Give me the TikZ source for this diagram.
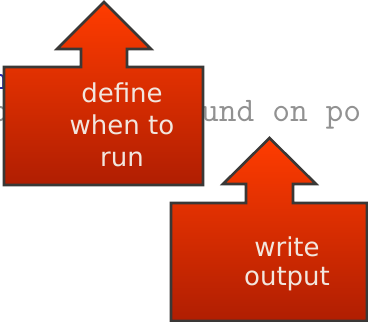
\documentclass[tikz,border=0pt]{standalone}
\usepackage{fontspec}
\setmainfont{DejaVu Sans}
\definecolor{calloutTop}{RGB}{255,60,0}
\definecolor{calloutBottom}{RGB}{176,30,2}
\definecolor{calloutEdge}{RGB}{58,56,54}
\definecolor{calloutText}{RGB}{242,230,222}
\definecolor{codeGray}{RGB}{145,145,145}
\definecolor{codeBlue}{RGB}{40,40,170}
\tikzset{
  callout/.style={draw=calloutEdge, line width=2.6pt, line join=miter,
    top color=calloutTop, bottom color=calloutBottom},
  label/.style={text=calloutText, font=\fontsize{26}{31}\selectfont,
    anchor=base, inner sep=0pt},
  code/.style={text=codeGray, font=\ttfamily\fontsize{34.5}{40}\selectfont,
    anchor=base west, inner sep=0pt},
}
\begin{document}
\begin{tikzpicture}[x=1pt, y=-1pt]
  \useasboundingbox (0,0) rectangle (368,322);
  \fill[white] (0,0) rectangle (368,322);
  \clip (0,0) rectangle (368,322);

  % listing in the background
  \node[code, text=codeBlue] (hlink) at (-10,89) {h};
  \node[code] (bfrag) at (-10,121) {b};
  \node[code] (codeline) at (201,121) {und on po};

  % upper callout
  \draw[callout] (104,2) -- (151,49) -- (127,49) -- (127,67) -- (203,67)
    -- (203,185) -- (4,185) -- (4,67) -- (81,67) -- (81,49) -- (57,49) -- cycle;
  \node[label] (def1) at (122,102) {define};
  \node[label] (def2) at (122,134.5) {when to};
  \node[label] (def3) at (122,166.5) {run};

  % lower callout
  \draw[callout] (269.5,138) -- (316,184) -- (293,184) -- (293,203) -- (367,203)
    -- (367,321) -- (171,321) -- (171,203) -- (246,203) -- (246,184) -- (223,184) -- cycle;
  \node[label] (out1) at (287,256) {write};
  \node[label] (out2) at (287,285.5) {output};
\end{tikzpicture}
\end{document}
